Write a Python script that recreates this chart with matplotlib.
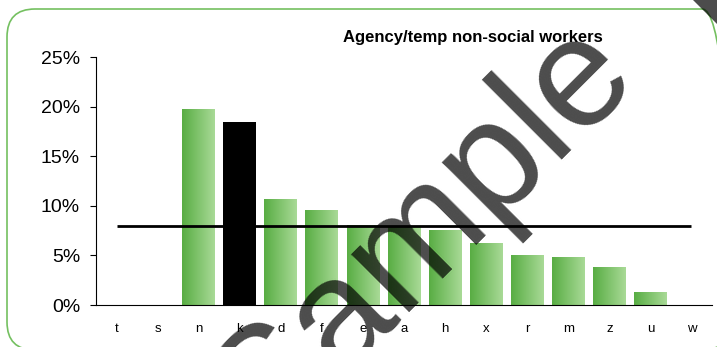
import numpy as np
import matplotlib
matplotlib.use("Agg")
import matplotlib.pyplot as plt
import matplotlib.patches as patches
from matplotlib.colors import LinearSegmentedColormap
from matplotlib.transforms import IdentityTransform

plt.rcParams['font.family'] = ['Liberation Sans', 'DejaVu Sans']

# data
categories = ['t', 's', 'n', 'k', 'd', 'f', 'e', 'a', 'h', 'x', 'r', 'm', 'z', 'u', 'w']
values = [0.0, 0.0, 19.8, 18.4, 10.7, 9.6, 8.1, 8.0, 7.6, 6.2, 5.0, 4.8, 3.8, 1.3, 0.0]
highlight = 'k'
benchmark = 8.0
y_ticks = [0, 5, 10, 15, 20, 25]
title = 'Agency/temp non-social workers'

W, H = 717, 347
fig = plt.figure(figsize=(W / 100, H / 100), dpi=100)
ax = fig.add_axes([96 / W, 1 - 305 / H, (712 - 96) / W, (305 - 57) / H])

green = LinearSegmentedColormap.from_list('grn', ['#58ad43', '#a9da97'])
grad = np.linspace(0, 1, 256).reshape(1, -1)

x = np.arange(len(categories))
bars = ax.bar(x, values, width=0.8, color='none', edgecolor='none', zorder=2)
for cat, b in zip(categories, bars):
    if b.get_height() <= 0:
        continue
    if cat == highlight:
        b.set_facecolor('black')
        continue
    x0 = b.get_x()
    im = ax.imshow(grad, extent=(x0, x0 + b.get_width(), 0, b.get_height()),
                   cmap=green, aspect='auto', zorder=2, interpolation='bilinear')
    im.set_clip_path(b)

# benchmark line
ax.plot([x[0], x[-1]], [benchmark, benchmark], color='black', lw=2.0, zorder=3,
        solid_capstyle='butt')

ax.set_xlim(-0.5, len(categories) - 0.5)
ax.set_ylim(0, 25)
ax.set_yticks(y_ticks)
ax.set_yticklabels([f'{t}%' for t in y_ticks], fontsize=14)
ax.set_xticks(x)
ax.set_xticklabels(categories, fontsize=9.5)
ax.tick_params(axis='x', length=0, pad=13)
ax.tick_params(axis='y', length=4.5, width=0.8, pad=7, direction='out')
for s in ['top', 'right']:
    ax.spines[s].set_visible(False)
for s in ['left', 'bottom']:
    ax.spines[s].set_linewidth(0.8)

fig.text(473 / W, 1 - 42 / H, title, fontsize=12, fontweight='bold',
         ha='center', va='baseline')

# rounded green frame (pixel coords)
frame = patches.FancyBboxPatch((7, H - 350), 723, 341,
                               boxstyle='round,pad=0,rounding_size=28',
                               transform=IdentityTransform(), facecolor='none',
                               edgecolor='#74c060', lw=1.2)
fig.patches.append(frame)

# watermark
fig.text(266 / W, 1 - 448 / H, 'Sample', fontsize=112, color='black', alpha=0.7,
         rotation=45, rotation_mode='anchor', ha='left', va='baseline', zorder=10)
corner = patches.Polygon([(693, H), (W, H), (W, H - 24)], closed=True,
                         transform=IdentityTransform(), facecolor='black',
                         alpha=0.7, edgecolor='none', zorder=10)
fig.patches.append(corner)

fig.savefig('out.png', dpi=100)
